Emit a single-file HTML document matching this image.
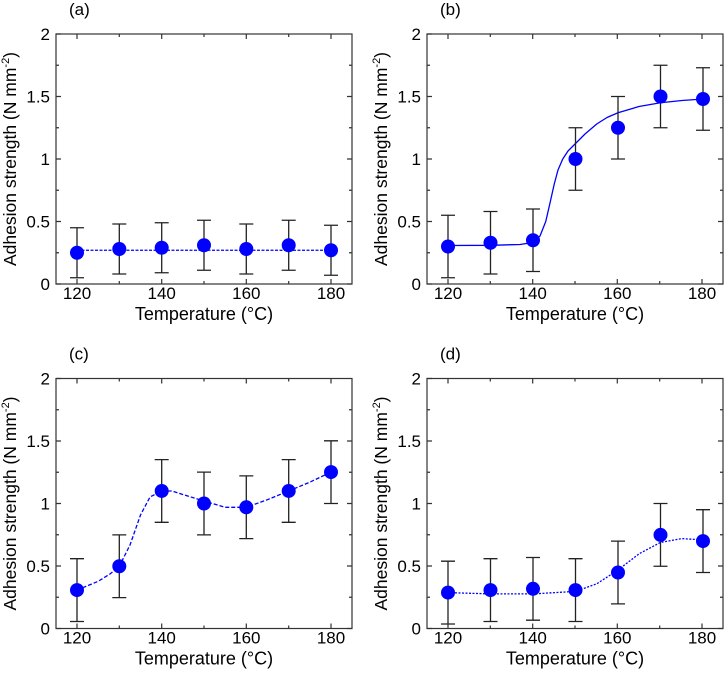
<!DOCTYPE html><html><head><style>body{margin:0;background:#fff}svg{display:block}text{font-family:"Liberation Sans",sans-serif;fill:#000}</style></head><body>
<svg width="727" height="673" xmlns="http://www.w3.org/2000/svg">
<g stroke="#333" stroke-width="1.2" fill="none">
<rect x="56" y="34" width="296" height="250"/>
<path d="M56,284h5M56,252.75h3M56,221.5h5M56,190.25h3M56,159h5M56,127.75h3M56,96.5h5M56,65.25h3M56,34h5M352,284h-5M352,252.75h-3M352,221.5h-5M352,190.25h-3M352,159h-5M352,127.75h-3M352,96.5h-5M352,65.25h-3M77,284v-5M119.3,284v-3M161.7,284v-5M204,284v-3M246.3,284v-5M288.7,284v-3M331,284v-5M77,34v5M119.3,34v3M161.7,34v5M204,34v3M246.3,34v5M288.7,34v3M331,34v5"/>
</g>
<g transform="translate(371,0)" stroke="#333" stroke-width="1.2" fill="none">
<rect x="56" y="34" width="296" height="250"/>
<path d="M56,284h5M56,252.75h3M56,221.5h5M56,190.25h3M56,159h5M56,127.75h3M56,96.5h5M56,65.25h3M56,34h5M352,284h-5M352,252.75h-3M352,221.5h-5M352,190.25h-3M352,159h-5M352,127.75h-3M352,96.5h-5M352,65.25h-3M77,284v-5M119.3,284v-3M161.7,284v-5M204,284v-3M246.3,284v-5M288.7,284v-3M331,284v-5M77,34v5M119.3,34v3M161.7,34v5M204,34v3M246.3,34v5M288.7,34v3M331,34v5"/>
</g>
<g transform="translate(0,344.5)" stroke="#333" stroke-width="1.2" fill="none">
<rect x="56" y="34" width="296" height="250"/>
<path d="M56,284h5M56,252.75h3M56,221.5h5M56,190.25h3M56,159h5M56,127.75h3M56,96.5h5M56,65.25h3M56,34h5M352,284h-5M352,252.75h-3M352,221.5h-5M352,190.25h-3M352,159h-5M352,127.75h-3M352,96.5h-5M352,65.25h-3M77,284v-5M119.3,284v-3M161.7,284v-5M204,284v-3M246.3,284v-5M288.7,284v-3M331,284v-5M77,34v5M119.3,34v3M161.7,34v5M204,34v3M246.3,34v5M288.7,34v3M331,34v5"/>
</g>
<g transform="translate(371,344.5)" stroke="#333" stroke-width="1.2" fill="none">
<rect x="56" y="34" width="296" height="250"/>
<path d="M56,284h5M56,252.75h3M56,221.5h5M56,190.25h3M56,159h5M56,127.75h3M56,96.5h5M56,65.25h3M56,34h5M352,284h-5M352,252.75h-3M352,221.5h-5M352,190.25h-3M352,159h-5M352,127.75h-3M352,96.5h-5M352,65.25h-3M77,284v-5M119.3,284v-3M161.7,284v-5M204,284v-3M246.3,284v-5M288.7,284v-3M331,284v-5M77,34v5M119.3,34v3M161.7,34v5M204,34v3M246.3,34v5M288.7,34v3M331,34v5"/>
</g>
<g font-size="17">
<text x="69" y="15">(a)</text>
<text x="440" y="15">(b)</text>
<text x="69" y="359.5">(c)</text>
<text x="440" y="359.5">(d)</text>
</g>
<g font-size="17">
<text x="50" y="290" text-anchor="end">0</text><text x="50" y="227.5" text-anchor="end">0.5</text><text x="50" y="165" text-anchor="end">1</text><text x="50" y="102.5" text-anchor="end">1.5</text><text x="50" y="40" text-anchor="end">2</text>
<text x="77" y="299" text-anchor="middle">120</text><text x="161.7" y="299" text-anchor="middle">140</text><text x="246.3" y="299" text-anchor="middle">160</text><text x="331" y="299" text-anchor="middle">180</text>
<text x="204" y="320" font-size="18" text-anchor="middle">Temperature (°C)</text>
<text transform="translate(16,159) rotate(-90)" font-size="17.5" text-anchor="middle">Adhesion strength (N mm<tspan font-size="11" dy="-7">-2</tspan><tspan dy="7">)</tspan></text>
</g>
<g transform="translate(371,0)" font-size="17">
<text x="50" y="290" text-anchor="end">0</text><text x="50" y="227.5" text-anchor="end">0.5</text><text x="50" y="165" text-anchor="end">1</text><text x="50" y="102.5" text-anchor="end">1.5</text><text x="50" y="40" text-anchor="end">2</text>
<text x="77" y="299" text-anchor="middle">120</text><text x="161.7" y="299" text-anchor="middle">140</text><text x="246.3" y="299" text-anchor="middle">160</text><text x="331" y="299" text-anchor="middle">180</text>
<text x="204" y="320" font-size="18" text-anchor="middle">Temperature (°C)</text>
<text transform="translate(16,159) rotate(-90)" font-size="17.5" text-anchor="middle">Adhesion strength (N mm<tspan font-size="11" dy="-7">-2</tspan><tspan dy="7">)</tspan></text>
</g>
<g transform="translate(0,344.5)" font-size="17">
<text x="50" y="290" text-anchor="end">0</text><text x="50" y="227.5" text-anchor="end">0.5</text><text x="50" y="165" text-anchor="end">1</text><text x="50" y="102.5" text-anchor="end">1.5</text><text x="50" y="40" text-anchor="end">2</text>
<text x="77" y="299" text-anchor="middle">120</text><text x="161.7" y="299" text-anchor="middle">140</text><text x="246.3" y="299" text-anchor="middle">160</text><text x="331" y="299" text-anchor="middle">180</text>
<text x="204" y="320" font-size="18" text-anchor="middle">Temperature (°C)</text>
<text transform="translate(16,159) rotate(-90)" font-size="17.5" text-anchor="middle">Adhesion strength (N mm<tspan font-size="11" dy="-7">-2</tspan><tspan dy="7">)</tspan></text>
</g>
<g transform="translate(371,344.5)" font-size="17">
<text x="50" y="290" text-anchor="end">0</text><text x="50" y="227.5" text-anchor="end">0.5</text><text x="50" y="165" text-anchor="end">1</text><text x="50" y="102.5" text-anchor="end">1.5</text><text x="50" y="40" text-anchor="end">2</text>
<text x="77" y="299" text-anchor="middle">120</text><text x="161.7" y="299" text-anchor="middle">140</text><text x="246.3" y="299" text-anchor="middle">160</text><text x="331" y="299" text-anchor="middle">180</text>
<text x="204" y="320" font-size="18" text-anchor="middle">Temperature (°C)</text>
<text transform="translate(16,159) rotate(-90)" font-size="17.5" text-anchor="middle">Adhesion strength (N mm<tspan font-size="11" dy="-7">-2</tspan><tspan dy="7">)</tspan></text>
</g>

<g fill="none" stroke="#0000ff" stroke-width="1.3" stroke-linejoin="round">
<path d="M77,250.25H331" stroke-dasharray="3,1.5"/>
<polyline points="448,245.5 490.5,245.3 520,244.5 533,242.5 540,236 545.75,221.5 550,203 554.25,184 558,170 562.75,159 568,151 575.5,143.5 585,134 596.75,124 607,117.5 618,112.75 639,106.5 660.5,102.75 682,100.5 703,99"/>
<polyline points="77,590.1 98.2,581.3 110,574 119.3,566.25 130,545 140.5,515 150,497 161.7,490.95 172,491 182.8,494.5 204,501 225.2,507.3 246.3,507.3 267.5,499.7 288.7,490.95 309.8,482.2 331,472.1" stroke-dasharray="4,2"/>
<polyline points="448,592.6 490.5,593.9 533,593.9 575.5,591.4 596.75,583.8 618,570 639.25,553.7 660.5,542.4 681.75,538.6 703,539.9" stroke-dasharray="2,1.5"/>
</g>
<g stroke="#222" stroke-width="1.3" fill="none">
<path d="M77,227.75V277.75M70,227.75H84M70,277.75H84M119.3,224V274M112.3,224H126.3M112.3,274H126.3M161.7,222.75V272.75M154.7,222.75H168.7M154.7,272.75H168.7M204,220.25V270.25M197,220.25H211M197,270.25H211M246.3,224V274M239.3,224H253.3M239.3,274H253.3M288.7,220.25V270.25M281.7,220.25H295.7M281.7,270.25H295.7M331,225.25V275.25M324,225.25H338M324,275.25H338"/>
<path d="M448,215.25V277.75M441,215.25H455M441,277.75H455M490.5,211.5V274M483.5,211.5H497.5M483.5,274H497.5M533,209V271.5M526,209H540M526,271.5H540M575.5,127.75V190.25M568.5,127.75H582.5M568.5,190.25H582.5M618,96.5V159M611,96.5H625M611,159H625M660.5,65.25V127.75M653.5,65.25H667.5M653.5,127.75H667.5M703,67.75V130.25M696,67.75H710M696,130.25H710"/>
<path d="M77,558.7V621.5M70,558.7H84M70,621.5H84M119.3,534.9V597.6M112.3,534.9H126.3M112.3,597.6H126.3M161.7,459.6V522.3M154.7,459.6H168.7M154.7,522.3H168.7M204,472.1V534.9M197,472.1H211M197,534.9H211M246.3,475.9V538.6M239.3,475.9H253.3M239.3,538.6H253.3M288.7,459.6V522.3M281.7,459.6H295.7M281.7,522.3H295.7M331,440.8V503.5M324,440.8H338M324,503.5H338"/>
<path d="M448,561.2V624M441,561.2H455M441,624H455M490.5,558.7V621.5M483.5,558.7H497.5M483.5,621.5H497.5M533,557.5V620.2M526,557.5H540M526,620.2H540M575.5,558.7V621.5M568.5,558.7H582.5M568.5,621.5H582.5M618,541.1V603.9M611,541.1H625M611,603.9H625M660.5,503.5V566.25M653.5,503.5H667.5M653.5,566.25H667.5M703,509.7V572.5M696,509.7H710M696,572.5H710"/>
</g>
<g fill="#0000ff">
<circle cx="77" cy="252.75" r="7"/><circle cx="119.3" cy="249" r="7"/><circle cx="161.7" cy="247.75" r="7"/><circle cx="204" cy="245.25" r="7"/><circle cx="246.3" cy="249" r="7"/><circle cx="288.7" cy="245.25" r="7"/><circle cx="331" cy="250.25" r="7"/>
<circle cx="448" cy="246.5" r="7"/><circle cx="490.5" cy="242.75" r="7"/><circle cx="533" cy="240.25" r="7"/><circle cx="575.5" cy="159" r="7"/><circle cx="618" cy="127.75" r="7"/><circle cx="660.5" cy="96.5" r="7"/><circle cx="703" cy="99" r="7"/>
<circle cx="77" cy="590.1" r="7"/><circle cx="119.3" cy="566.25" r="7"/><circle cx="161.7" cy="490.95" r="7"/><circle cx="204" cy="503.5" r="7"/><circle cx="246.3" cy="507.3" r="7"/><circle cx="288.7" cy="490.95" r="7"/><circle cx="331" cy="472.1" r="7"/>
<circle cx="448" cy="592.6" r="7"/><circle cx="490.5" cy="590.1" r="7"/><circle cx="533" cy="588.8" r="7"/><circle cx="575.5" cy="590.1" r="7"/><circle cx="618" cy="572.5" r="7"/><circle cx="660.5" cy="534.9" r="7"/><circle cx="703" cy="541.1" r="7"/>
</g>
</svg>
</body></html>
